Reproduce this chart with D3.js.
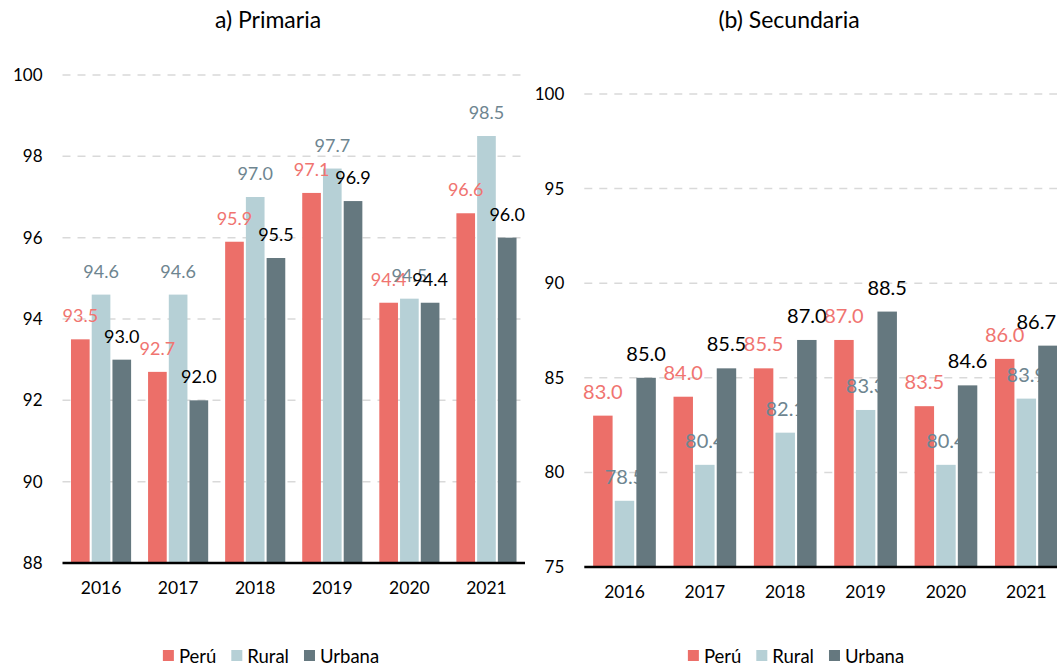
<!DOCTYPE html>
<html>
<head>
<meta charset="utf-8">
<script src="https://cdnjs.cloudflare.com/ajax/libs/d3/7.8.5/d3.min.js"></script>
<style>
  body { margin: 0; background: #fff; }
  svg { display: block; font-family: Lato, "Open Sans", sans-serif; }
</style>
</head>
<body>
<div id="chart-area"></div>
<script>
// categories and series
var years = ["2016", "2017", "2018", "2019", "2020", "2021"];
var seriesNames = ["Perú", "Rural", "Urbana"];

// a) Primaria
var primPeru   = [93.5, 92.7, 95.9, 97.1, 94.4, 96.6];
var primRural  = [94.6, 94.6, 97.0, 97.7, 94.5, 98.5];
var primUrbana = [93.0, 92.0, 95.5, 96.9, 94.4, 96.0];
var primTicks  = [88, 90, 92, 94, 96, 98, 100];

// (b) Secundaria
var secPeru   = [83.0, 84.0, 85.5, 87.0, 83.5, 86.0];
var secRural  = [78.5, 80.4, 82.1, 83.3, 80.4, 83.9];
var secUrbana = [85.0, 85.5, 87.0, 88.5, 84.6, 86.7];
var secTicks  = [75, 80, 85, 90, 95, 100];

var barColors   = ["#ec6f69", "#b6d0d6", "#65787f"];
var labelColors = ["#f07470", "#6e8590", "#000000"];

var W = 1057, H = 667;

var svg = d3.select("#chart-area")
  .append("svg")
    .attr("width", W)
    .attr("height", H);

function drawPanel(p) {
  var g = svg.append("g");

  var x0 = d3.scaleBand()
    .domain(years)
    .range([p.left, p.right])
    .padding(0);

  var groupW = x0.bandwidth() * 0.78;
  var x1 = d3.scaleBand()
    .domain(seriesNames)
    .range([0, groupW])
    .paddingInner(0.1);
  var offset = (x0.bandwidth() - groupW) / 2;

  var y = d3.scaleLinear()
    .domain(d3.extent(p.ticks))
    .range([p.bottom, p.top]);

  // grid
  g.selectAll(".grid")
    .data(p.ticks.slice(1)).enter()
    .append("line")
      .attr("x1", p.left)
      .attr("x2", p.gridEnd)
      .attr("y1", function(d) { return y(d); })
      .attr("y2", function(d) { return y(d); })
      .attr("stroke", "#d9d9d9")
      .attr("stroke-width", 1.5)
      .attr("stroke-dasharray", "8,7");

  // y tick labels
  var yAxisCall = d3.axisLeft(y).tickValues(p.ticks).tickSize(0).tickPadding(20);
  var ya = g.append("g")
    .attr("transform", "translate(" + p.left + ",0)")
    .call(yAxisCall);
  ya.select(".domain").remove();
  ya.selectAll("text")
    .attr("font-size", "17px")
    .attr("font-family", "Lato, sans-serif")
    .attr("fill", "#000");

  var barLayer = g.append("g");
  var labelLayer = g.append("g");

  // bars + labels, series by series
  p.values.forEach(function(vals, si) {
    var data = years.map(function(yr, i) { return { year: yr, v: vals[i] }; });
    var sx = function(d) { return x0(d.year) + offset + x1(seriesNames[si]); };

    var bars = p.labelsOnTop ? barLayer : g;
    bars.append("g").selectAll("rect")
      .data(data).enter()
      .append("rect")
        .attr("x", sx)
        .attr("y", function(d) { return y(d.v); })
        .attr("width", x1.bandwidth())
        .attr("height", function(d) { return p.bottom - y(d.v); })
        .attr("fill", barColors[si]);

    var labs = p.labelsOnTop ? labelLayer : g;
    labs.append("g").selectAll("text")
      .data(data).enter()
      .append("text")
        .attr("x", function(d) { return sx(d) + x1.bandwidth() / 2; })
        .attr("y", function(d) { return y(d.v) - 17; })
        .attr("text-anchor", "middle")
        .attr("font-size", p.labelSize)
        .attr("fill", labelColors[si])
        .text(function(d) { return d.v.toFixed(1); })
        .each(function() {
          // keep labels inside the picture
          var w = this.getComputedTextLength();
          var cx = +this.getAttribute("x");
          if (cx + w / 2 > W - 1) this.setAttribute("x", W - 1 - w / 2);
        });
  });
  if (p.labelsOnTop) labelLayer.raise();

  // baseline + year labels
  var xAxisCall = d3.axisBottom(x0).tickSize(0).tickPadding(19);
  var xa = g.append("g")
    .attr("transform", "translate(0," + p.bottom + ")")
    .call(xAxisCall);
  xa.select(".domain")
    .attr("d", "M" + p.left + ",0H" + p.gridEnd)
    .attr("stroke", "#000")
    .attr("stroke-width", 2.5);
  xa.selectAll("text")
    .attr("font-size", "17.5px")
    .attr("font-family", "Lato, sans-serif")
    .attr("fill", "#000");

  // title
  g.append("text")
    .attr("x", p.titleX)
    .attr("y", 28)
    .attr("text-anchor", "middle")
    .attr("font-size", "23px")
    .text(p.title);

  // legend
  var leg = g.append("g");
  var cx = 0;
  seriesNames.forEach(function(name, i) {
    leg.append("rect")
      .attr("x", cx)
      .attr("y", -6)
      .attr("width", 11)
      .attr("height", 11)
      .attr("fill", barColors[i]);
    var t = leg.append("text")
      .attr("x", cx + 16)
      .attr("y", 6.5)
      .attr("font-size", "18.5px")
      .text(name);
    cx += 16 + t.node().getComputedTextLength() + 15;
  });
  var legW = cx - 15;
  leg.attr("transform", "translate(" + (p.legendX - legW / 2) + ",656)");
}

drawPanel({
  title: "a) Primaria",
  values: [primPeru, primRural, primUrbana],
  ticks: primTicks,
  left: 62.5, right: 525, gridEnd: 525,
  top: 75, bottom: 563,
  titleX: 268, legendX: 271,
  labelSize: "18px",
  labelsOnTop: true
});

drawPanel({
  title: "(b) Secundaria",
  values: [secPeru, secRural, secUrbana],
  ticks: secTicks,
  left: 584.3, right: 1066.5, gridEnd: 1066,
  top: 94, bottom: 567,
  titleX: 789, legendX: 796,
  labelSize: "20px",
  labelsOnTop: false
});
</script>
</body>
</html>
